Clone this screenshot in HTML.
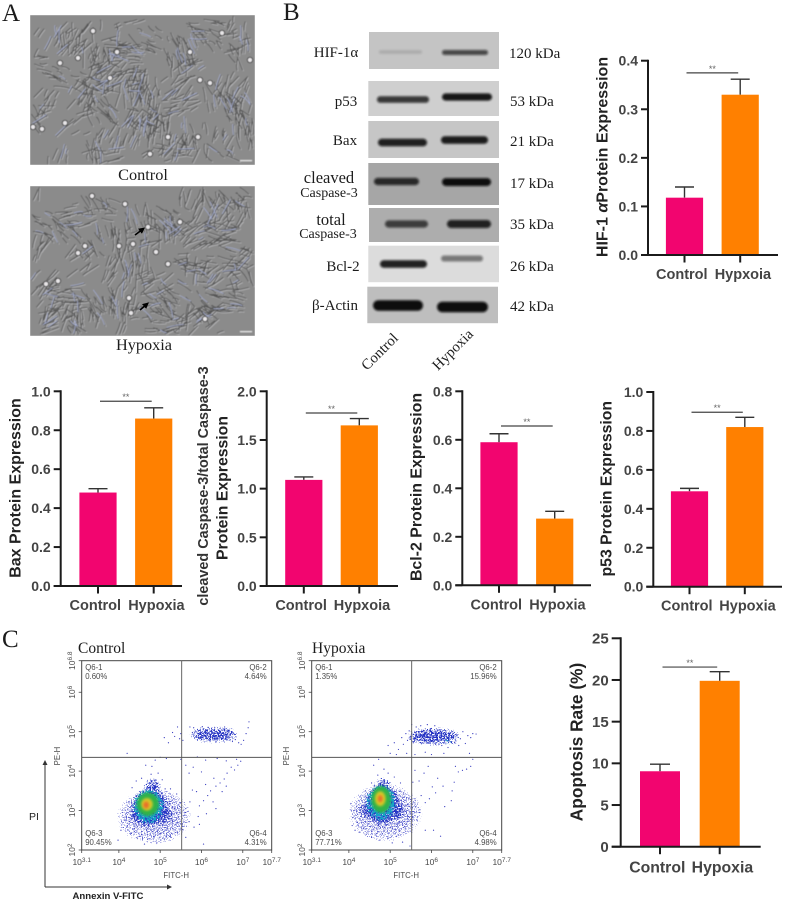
<!DOCTYPE html>
<html lang="en">
<head>
<meta charset="utf-8">
<title>Hypoxia figure</title>
<style>
html,body{margin:0;padding:0;background:#fff;}
svg{display:block;}
.sans{font-family:"Liberation Sans",Arial,sans-serif;}
.serif{font-family:"Liberation Serif","Times New Roman",serif;fill:#1c1c1c;}
.sans-bold{font-family:"Liberation Sans",Arial,sans-serif;font-weight:bold;}
</style>
</head>
<body>
<svg id="figure" xmlns="http://www.w3.org/2000/svg" width="789" height="905" viewBox="0 0 789 905">
  <defs>
    <filter id="soft" x="-30%" y="-150%" width="160%" height="400%"><feGaussianBlur stdDeviation="1.1"/></filter>
    <filter id="photo" x="0" y="0" width="100%" height="100%"><feGaussianBlur stdDeviation="0.4"/></filter>
    <filter id="speckle-halo" x="-60%" y="-60%" width="220%" height="220%" color-interpolation-filters="sRGB">
      <feGaussianBlur in="SourceAlpha" stdDeviation="7" result="b"/>
      <feTurbulence type="fractalNoise" baseFrequency="0.8" numOctaves="2" seed="11" result="n"/>
      <feColorMatrix in="n" type="matrix" values="0 0 0 0 0  0 0 0 0 0  0 0 0 0 0  2.2 0 0 0 -0.6" result="m"/>
      <feComposite in="b" in2="m" operator="arithmetic" k1="1" result="c"/>
      <feColorMatrix in="c" type="matrix" values="0 0 0 0 0  0 0 0 0 0  0 0 0 0 0  0 0 0 14 -7.8" result="d"/>
      <feFlood flood-color="#5a5fd0"/>
      <feComposite in2="d" operator="in"/>
    </filter>
    <filter id="speckle-blue" x="-60%" y="-60%" width="220%" height="220%" color-interpolation-filters="sRGB">
      <feGaussianBlur in="SourceAlpha" stdDeviation="4.5" result="b"/>
      <feTurbulence type="fractalNoise" baseFrequency="0.7" numOctaves="2" seed="4" result="n"/>
      <feColorMatrix in="n" type="matrix" values="0 0 0 0 0  0 0 0 0 0  0 0 0 0 0  2.2 0 0 0 -0.6" result="m"/>
      <feComposite in="b" in2="m" operator="arithmetic" k1="1" result="c"/>
      <feColorMatrix in="c" type="matrix" values="0 0 0 0 0  0 0 0 0 0  0 0 0 0 0  0 0 0 12 -3.9" result="d"/>
      <feFlood flood-color="#2433c4"/>
      <feComposite in2="d" operator="in"/>
    </filter>
    <filter id="speckle-cyan" x="-60%" y="-60%" width="220%" height="220%" color-interpolation-filters="sRGB">
      <feGaussianBlur in="SourceAlpha" stdDeviation="3" result="b"/>
      <feTurbulence type="fractalNoise" baseFrequency="0.55" numOctaves="2" seed="23" result="n"/>
      <feColorMatrix in="n" type="matrix" values="0 0 0 0 0  0 0 0 0 0  0 0 0 0 0  2.2 0 0 0 -0.6" result="m"/>
      <feComposite in="b" in2="m" operator="arithmetic" k1="1" result="c"/>
      <feColorMatrix in="c" type="matrix" values="0 0 0 0 0  0 0 0 0 0  0 0 0 0 0  0 0 0 10 -2.6" result="d"/>
      <feFlood flood-color="#16a4c8"/>
      <feComposite in2="d" operator="in"/>
    </filter>
    <filter id="smooth" x="-60%" y="-60%" width="220%" height="220%"><feGaussianBlur stdDeviation="1.4"/></filter>
    <marker id="arrow-head" markerWidth="6" markerHeight="6" refX="4" refY="2.5" orient="auto"><path d="M0,0 L5,2.5 L0,5 Z" fill="#333"/></marker>
    <marker id="cell-arrow-head" markerWidth="4" markerHeight="4" refX="2.4" refY="2" orient="auto"><path d="M0,0 L4,2 L0,4 Z" fill="#000"/></marker>
  </defs>

  <text class="serif" x="2" y="21" font-size="25">A</text>
  <text class="serif" x="283" y="20" font-size="25">B</text>
  <text class="serif" x="2" y="647" font-size="25">C</text>

  <g id="micrographs"></g>
  <text class="serif" x="143" y="180" font-size="16.3" text-anchor="middle">Control</text>
  <text class="serif" x="144" y="350" font-size="16.3" text-anchor="middle">Hypoxia</text>

  <g id="blots"></g>
  <g class="serif" font-size="15" text-anchor="middle">
    <text class="serif" x="336" y="57">HIF-1α</text>
    <text class="serif" x="346" y="106">p53</text>
    <text class="serif" x="345" y="145">Bax</text>
    <text class="serif" x="329" y="183" font-size="16.5">cleaved</text>
    <text class="serif" x="329" y="197" font-size="14">Caspase-3</text>
    <text class="serif" x="331" y="225" font-size="16.5">total</text>
    <text class="serif" x="328" y="238" font-size="14">Caspase-3</text>
    <text class="serif" x="343" y="271">Bcl-2</text>
    <text class="serif" x="335" y="310">β-Actin</text>
  </g>
  <g class="serif" font-size="15">
    <text class="serif" x="509" y="58">120 kDa</text>
    <text class="serif" x="510" y="106">53 kDa</text>
    <text class="serif" x="510" y="146">21 kDa</text>
    <text class="serif" x="510" y="188">17 kDa</text>
    <text class="serif" x="510" y="229">35 kDa</text>
    <text class="serif" x="510" y="271">26 kDa</text>
    <text class="serif" x="510" y="311">42 kDa</text>
  </g>
  <text class="serif" font-size="14.8" transform="translate(367,371) rotate(-45)">Control</text>
  <text class="serif" font-size="14.8" transform="translate(438,371) rotate(-45)">Hypoxia</text>

  <g id="bar-charts"></g>

  <text class="serif" x="78" y="653" font-size="15.5">Control</text>
  <text class="serif" x="312" y="653" font-size="15.5">Hypoxia</text>
  <g id="flow-plots"></g>

  <path d="M45,887 L45,761" stroke="#333" stroke-width="1" fill="none" marker-end="url(#arrow-head)"/>
  <path d="M45,887 L171,887" stroke="#333" stroke-width="1" fill="none" marker-end="url(#arrow-head)"/>
  <text class="sans" x="29" y="820" font-size="10.5" fill="#222">PI</text>
  <text class="sans-bold" x="72.5" y="899" font-size="9.6" fill="#222">Annexin V-FITC</text>
</svg>

<script>
/* ---------- Bar chart data ---------- */
const barCategories = ["Control", "Hypoxia"];
const hypxoiaCategories = ["Control", "Hypxoia"];

const hifValues = [0.118, 0.33];
const hifErrorTops = [0.14, 0.362];
const hifTickLabels = ["0.0", "0.1", "0.2", "0.3", "0.4"];
const hifSignificance = 0.375;

const baxValues = [0.48, 0.86];
const baxErrorTops = [0.5, 0.915];
const baxTickLabels = ["0.0", "0.2", "0.4", "0.6", "0.8", "1.0"];
const baxSignificance = 0.949;

const caspaseValues = [1.09, 1.65];
const caspaseErrorTops = [1.12, 1.72];
const caspaseTickLabels = ["0.0", "0.5", "1.0", "1.5", "2.0"];
const caspaseSignificance = 1.777;

const bclValues = [0.59, 0.275];
const bclErrorTops = [0.625, 0.305];
const bclTickLabels = ["0.0", "0.2", "0.4", "0.6", "0.8"];
const bclSignificance = 0.657;

const p53Values = [0.49, 0.82];
const p53ErrorTops = [0.505, 0.87];
const p53TickLabels = ["0.0", "0.2", "0.4", "0.6", "0.8", "1.0"];
const p53Significance = 0.896;

const apoptosisValues = [9.05, 19.9];
const apoptosisErrorTops = [9.9, 21];
const apoptosisTickLabels = ["0", "5", "10", "15", "20", "25"];
const apoptosisSignificance = 21.55;

/* ---------- Western blot band darkness, read by eye ---------- */
const blotProteins = ["HIF-1a", "p53", "Bax", "cleaved-caspase-3", "total-caspase-3", "Bcl-2", "beta-actin"];
const blotControlDarkness = [0.13, 0.78, 0.9, 0.82, 0.7, 0.9, 1];
const blotHypoxiaDarkness = [0.68, 0.95, 0.92, 1, 0.88, 0.48, 1];

/* ---------- Flow cytometry: quadrant statistics ---------- */
const quadrantNames = ["Q6-1", "Q6-2", "Q6-3", "Q6-4"];
const controlQuadrants = ["0.60%", "4.64%", "90.45%", "4.31%"];
const hypoxiaQuadrants = ["1.35%", "15.96%", "77.71%", "4.98%"];
const flowXTicks = ["3.1", "4", "5", "6", "7", "7.7"];
const flowYTicks = ["2", "3", "4", "5", "6", "6.8"];
const gateLogX = 5.52;
const gateLogY = 4.35;

/* Density regions: [log centre x, log centre y, log radius x, log radius y, level] */
const controlDensity = [
  [4.85, 2.85, 0.95, 0.75, 0],
  [4.76, 3.08, 0.44, 0.5, 1],
  [4.82, 3.5, 0.2, 0.34, 1],
  [4.55, 2.88, 0.3, 0.24, 1],
  [5.0, 2.9, 0.32, 0.25, 1],
  [6.3, 4.92, 0.62, 0.18, 1],
  [4.72, 3.1, 0.36, 0.42, 2],
  [4.7, 3.16, 0.27, 0.3, 3],
  [4.68, 3.16, 0.14, 0.16, 4],
  [4.66, 3.14, 0.07, 0.09, 5]
];
const hypoxiaDensity = [
  [4.88, 2.95, 0.95, 0.78, 0],
  [4.82, 3.14, 0.44, 0.5, 1],
  [4.82, 3.52, 0.22, 0.32, 1],
  [4.55, 3.0, 0.3, 0.24, 1],
  [5.05, 3.0, 0.32, 0.25, 1],
  [6.05, 4.88, 0.68, 0.2, 1],
  [6.48, 4.78, 0.22, 0.1, 1],
  [4.78, 3.2, 0.34, 0.44, 2],
  [6.42, 4.77, 0.11, 0.06, 2],
  [4.78, 3.28, 0.24, 0.34, 3],
  [4.76, 3.3, 0.13, 0.19, 4],
  [4.76, 3.3, 0.06, 0.09, 5]
];

/* Individually placed events: [log x, log y] */
const controlEvents = [
[5.72,5.12],[5.78,4.98],[5.81,5.1],[5.88,4.9],[5.92,5.02],[5.96,4.86],[6.0,4.98],[6.02,5.13],[6.06,4.9],[6.1,5.03],[6.12,4.84],[6.16,5.11],[6.18,4.95],[6.2,4.88],[6.24,5.02],[6.27,4.83],[6.3,4.93],[6.32,5.1],[6.35,4.88],[6.37,5.0],[6.4,4.82],[6.42,4.95],[6.45,5.08],[6.47,4.9],[6.5,5.03],[6.52,4.85],[6.54,4.96],[6.56,5.12],[6.6,4.9],[6.63,5.02],[6.66,4.84],[6.7,4.93],[6.75,4.75],[6.82,4.8],[6.9,4.72],[6.96,4.68],[7.02,4.78],[7.08,4.95],[7.13,5.1],[7.15,5.25],[5.1,4.85],[5.2,4.72],[5.3,4.98],[5.35,4.88],[5.42,5.12],[5.47,4.82],[5.5,4.95],[5.55,4.78],
[4.2,4.45],[4.88,4.28],[5.0,4.35],[5.15,4.32],[5.5,4.3],[5.9,4.36],[6.1,4.28],[6.38,4.32],[6.6,4.26],[6.85,4.3],[6.95,4.25],[6.88,4.15],[6.8,4.03],[6.72,4.1],[6.62,3.95],[6.55,3.8],[6.45,3.7],[6.35,3.62],[6.3,3.82],[6.22,3.5],[6.15,3.38],[6.05,3.25],[5.95,3.12],[6.5,3.48],[6.6,3.62],[6.28,3.22],[6.35,3.05],[6.12,2.92],[5.92,2.85],[5.78,3.52],[5.7,3.95],[5.62,4.15],[5.8,4.1],[6.0,3.98],[6.1,3.66],[5.88,3.48],[5.72,3.22],[5.62,3.05],
[5.62,2.95],[5.7,2.72],[5.82,2.58],[5.95,2.65],[5.55,2.52],[5.62,2.32],[6.05,2.15],[5.45,2.85],[5.5,3.2],[5.4,3.42],[5.35,3.05],[5.3,2.72],[5.25,3.55],[5.42,2.45],[5.25,2.35],[5.18,2.55],[5.1,2.28],[5.02,2.42],[4.92,2.18],[4.85,2.35],[4.78,2.5],[4.7,2.28],[4.62,2.15],[4.55,2.4],[4.45,2.3],[4.38,2.55],[4.3,2.42],[4.2,2.6],[4.15,2.75],[4.05,2.5],[3.98,2.25],[4.25,3.22],[4.32,3.58],[4.42,3.75],[4.55,3.82],[4.78,3.92],[4.95,3.95],[5.05,3.78],[5.12,3.55],[4.65,4.15],[4.8,4.12],
[5.05,3.25],[5.15,2.98],[5.22,3.18],[4.98,2.62],[5.08,2.72],[4.6,2.62],[4.42,2.88],[4.32,2.98],[4.25,2.72]
];
const hypoxiaEvents = [
[4.95,4.65],[5.1,4.72],[5.2,4.55],[5.28,4.85],[5.32,4.68],[5.38,4.95],[5.42,4.78],[5.46,5.02],[5.5,4.88],[5.52,5.18],[5.56,4.72],[5.6,4.98],[5.63,5.12],[5.66,4.8],[5.7,4.92],[5.74,5.15],[5.78,4.72],[5.82,5.02],[5.85,4.85],[5.9,5.18],[5.93,4.95],[5.97,4.75],[6.0,5.08],[6.04,4.86],[6.08,5.15],[6.1,4.68],[6.14,4.95],[6.18,4.78],[6.2,5.05],[6.25,4.65],[6.3,4.88],[6.34,5.02],[6.4,4.6],[6.45,4.95],[6.5,5.0],[6.56,4.72],[6.6,4.92],[6.66,4.65],[6.7,4.82],[6.76,5.0],[6.82,4.7],[6.88,4.9],[6.95,4.85],[7.0,4.95],[7.08,4.94],[5.0,4.45],[5.15,4.42],[5.4,4.45],[5.6,4.42],[5.85,4.48],[6.0,4.42],[6.3,4.45],
[6.92,4.45],[7.0,4.3],[6.95,4.12],[6.85,4.05],[6.75,4.02],[6.65,3.98],[6.58,4.12],[6.55,3.72],[6.5,3.5],[6.48,3.25],[6.32,3.1],[6.28,3.62],[6.15,3.82],[6.1,3.45],[6.02,3.6],[5.95,3.3],[5.85,3.2],[5.72,3.02],[5.62,3.1],[5.7,3.75],[5.82,3.95],[5.92,4.12],[5.6,4.02],[5.55,3.72],[5.72,2.95],[5.85,2.5],[6.05,2.5],[6.22,2.35],
[5.3,2.2],[5.2,2.38],[5.12,2.52],[5.05,2.18],[4.95,2.3],[4.85,2.48],[4.75,2.25],[4.68,2.42],[4.55,2.32],[4.42,2.4],[4.35,2.55],[4.25,2.45],[4.15,2.5],[4.08,2.62],[4.2,2.7],[4.3,2.85],[4.12,3.0],[4.05,3.18],[4.32,3.12],[4.4,3.5],[4.55,3.7],[4.7,3.9],[4.85,4.05],[4.95,3.95],[5.1,3.85],[5.25,3.7],[5.32,3.42],[5.42,3.15],[5.5,3.28],[5.45,2.85],[5.38,2.65],[5.52,2.45],[5.48,2.1],[5.3,3.02],[5.22,2.72],[5.15,3.35],[4.9,2.72],[4.72,2.62],[4.6,2.78],[4.5,2.95],[5.6,3.3],[5.75,3.38],[4.6,4.15],[4.72,4.3],[5.05,3.55],[4.48,3.3]
];

/* ---------- Helpers ---------- */
const NS = "http://www.w3.org/2000/svg";
function mk(tag, attrs, parent) {
  const el = document.createElementNS(NS, tag);
  for (const k in attrs) el.setAttribute(k, attrs[k]);
  parent.appendChild(el);
  return el;
}
function linear(d0, d1, r0, r1) {
  return v => r0 + (v - d0) * (r1 - r0) / (d1 - d0);
}

/* ---------- Bar charts ---------- */
const PINK = "#f2056f", ORANGE = "#ff8000", AXIS = "#1b1b1b", INK = "#444";

function drawBarChart(o) {
  const root = document.getElementById("bar-charts");
  const g = mk("g", {}, root);
  
  
  const ticks = o.tickLabels.map(Number);
  const y = linear(ticks[0], ticks[ticks.length - 1], o.bottom, o.top);
  const colours = [PINK, ORANGE];

  o.values.forEach((v, i) => {
    const cx = o.centres[i];
    const err = mk("path", {
      d: `M${cx},${y(v)} V${y(o.errorTops[i])} M${cx - o.cap},${y(o.errorTops[i])} H${cx + o.cap}`,
      stroke: "#333", "stroke-width": 1.4, fill: "none"
    }, g);
    
    
    const bar = mk("rect", {
      x: cx - o.barWidth / 2, y: y(v), width: o.barWidth, height: o.bottom - y(v), fill: colours[i]
    }, g);
    
    

    const tick = mk("line", {
      x1: cx, x2: cx, y1: o.bottom, y2: o.bottom + 7.5, stroke: AXIS, "stroke-width": 2
    }, g);
    
    

    const lab = mk("text", {
      x: cx + (i === 0 ? -o.labelSpread : o.labelSpread), y: o.bottom + o.labelDrop, "text-anchor": "middle",
      "font-size": o.catFont, fill: INK, class: "sans-bold"
    }, g);
    lab.textContent = o.categories[i];
    
    
  });

  const axis = mk("path", {
    d: `M${o.axisX},${o.top - 1} V${o.bottom} M${o.axisX - o.tickLen},${o.bottom} H${o.axisEnd}`,
    stroke: AXIS, "stroke-width": 2, fill: "none"
  }, g);
  
  

  ticks.forEach((t, i) => {
    const tk = mk("line", {
      x1: o.axisX - o.tickLen, x2: o.axisX, y1: y(t), y2: y(t), stroke: AXIS, "stroke-width": 2
    }, g);
    
    
    const lb = mk("text", {
      x: o.axisX - o.tickLen - 3, y: y(t) + o.tickFont * 0.36, "text-anchor": "end",
      "font-size": o.tickFont, fill: INK, class: "sans-bold"
    }, g);
    lb.textContent = o.tickLabels[i];
    
    
  });

  const sy = y(o.significance);
  const sig = mk("line", {
    x1: o.centres[0] + o.sigInset, x2: o.centres[1] - o.sigInset, y1: sy, y2: sy, stroke: "#444", "stroke-width": 1.2
  }, g);
  
  
  const star = mk("text", {
    x: (o.centres[0] + o.centres[1]) / 2, y: sy - 1, "text-anchor": "middle", "font-size": 9, fill: "#666", class: "sans"
  }, g);
  star.textContent = "**";
  
  

  o.titles.forEach((t) => {
    const ty = mk("text", {
      transform: `translate(${t.x},${t.y}) rotate(-90)`, "text-anchor": "middle",
      "font-size": t.size, fill: t.fill || "#222", class: "sans-bold"
    }, g);
    
    
    if (t.alpha) {
      const a = mk("tspan", {}, ty);
      a.textContent = t.alpha[0];
      const al = mk("tspan", { "font-style": "italic" }, ty);
      al.textContent = "α";
      const b = mk("tspan", {}, ty);
      b.textContent = t.alpha[1];
    } else {
      ty.textContent = t.text;
    }
  });
}

const commonBar = { barWidth: 37.2, cap: 9.5, tickLen: 7, tickFont: 14, catFont: 14.5, labelSpread: 2.7, labelDrop: 24, sigInset: 2 };

drawBarChart(Object.assign({}, commonBar, {
  name: "hif", categories: hypxoiaCategories, values: hifValues, errorTops: hifErrorTops,
  tickLabels: hifTickLabels, significance: hifSignificance,
  axisX: 648, axisEnd: 778, top: 60.7, bottom: 255, centres: [684.5, 740.2],
  titles: [{ x: 607.3, y: 157, size: 16, alpha: ["HIF-1 ", "Protein Expression"] }]
}));
drawBarChart(Object.assign({}, commonBar, {
  name: "bax", categories: barCategories, values: baxValues, errorTops: baxErrorTops,
  tickLabels: baxTickLabels, significance: baxSignificance,
  axisX: 60.7, axisEnd: 182, top: 391.3, bottom: 586, centres: [98, 153.7],
  titles: [{ x: 20.7, y: 488, size: 16, text: "Bax Protein Expression" }]
}));
drawBarChart(Object.assign({}, commonBar, {
  name: "caspase", categories: hypxoiaCategories, values: caspaseValues, errorTops: caspaseErrorTops,
  tickLabels: caspaseTickLabels, significance: caspaseSignificance,
  axisX: 266.7, axisEnd: 398, top: 391.3, bottom: 586, centres: [303.8, 359.3],
  titles: [
    { x: 208, y: 486, size: 14.4, fill: "#333", text: "cleaved Caspase-3/total Caspase-3" },
    { x: 227.7, y: 488, size: 15.8, text: "Protein Expression" }
  ]
}));
drawBarChart(Object.assign({}, commonBar, {
  name: "bcl2", categories: barCategories, values: bclValues, errorTops: bclErrorTops,
  tickLabels: bclTickLabels, significance: bclSignificance,
  axisX: 462.3, axisEnd: 591, top: 391.3, bottom: 585.3, centres: [499, 554.7],
  titles: [{ x: 421.7, y: 487, size: 15.9, text: "Bcl-2 Protein Expression" }]
}));
drawBarChart(Object.assign({}, commonBar, {
  name: "p53", categories: barCategories, values: p53Values, errorTops: p53ErrorTops,
  tickLabels: p53TickLabels, significance: p53Significance,
  axisX: 653.3, axisEnd: 782, top: 392, bottom: 586.7, centres: [689.5, 744.8],
  titles: [{ x: 611.7, y: 488.7, size: 15.8, text: "p53 Protein Expression" }]
}));
drawBarChart(Object.assign({}, commonBar, {
  name: "apoptosis", categories: barCategories, values: apoptosisValues, errorTops: apoptosisErrorTops,
  tickLabels: apoptosisTickLabels, significance: apoptosisSignificance,
  axisX: 620.7, axisEnd: 760.7, top: 638.3, bottom: 846.7, centres: [660, 719.7], barWidth: 40, cap: 10,
  tickLen: 9, tickFont: 15, catFont: 15.8, labelDrop: 26, sigInset: 2.5,
  titles: [{ x: 582.3, y: 742, size: 17.3, text: "Apoptosis Rate (%)" }]
}));

/* ---------- Western blots ---------- */
(function () {
  const root = document.getElementById("blots");
  const panels = [
    { x: 369, y: 32, w: 130, h: 37, bg: "#c4c4c4", bandY: [52, 52.5], t: 5.5 },
    { x: 368.3, y: 81, w: 130.7, h: 35, bg: "#cfcfcf", bandY: [99.5, 97], t: 7 },
    { x: 368.3, y: 121, w: 130.7, h: 37, bg: "#c6c6c6", bandY: [142.5, 140], t: 7.5 },
    { x: 368.3, y: 163, w: 130.7, h: 42, bg: "#a6a6a6", bandY: [181.5, 182], t: 7.5 },
    { x: 369, y: 208, w: 130, h: 34, bg: "#adadad", bandY: [224, 224], t: 8 },
    { x: 368.3, y: 245.7, w: 130.7, h: 36.5, bg: "#dcdcdc", bandY: [264, 258.5], t: 7.5 },
    { x: 367.3, y: 286.7, w: 130.7, h: 36.5, bg: "#bebebe", bandY: [305.5, 307], t: 10 }
  ];
  const lanesX = [[[379, 422], [442, 488]], [[377, 429], [442, 492]], [[378, 427], [441, 488]], [[374, 419], [442, 491]], [[385, 428], [447, 491]], [[380, 427], [441, 483]], [[373, 423], [437, 488]]];
  panels.forEach((p, i) => {
    const g = mk("g", {}, root);
    
    
    const bgr = mk("rect", { x: p.x, y: p.y, width: p.w, height: p.h, fill: p.bg }, g);
    
    
    [blotControlDarkness[i], blotHypoxiaDarkness[i]].forEach((d, lane) => {
      const [a, b] = lanesX[i][lane];
      const thick = p.t * (0.55 + 0.5 * d);
      const band = mk("rect", {
        x: a, y: p.bandY[lane] - thick / 2, width: b - a, height: thick, rx: thick / 2,
        fill: "#0a0a0a", opacity: d, filter: "url(#soft)"
      }, g);
      
      
    });
  });
})();

/* ---------- Micrographs (photographic texture, not data) ---------- */
function drawMicrograph(name, x, y, w, h, seed, ringCells, arrows) {
  const root = document.getElementById("micrographs");
  const g = mk("g", { filter: "url(#photo)" }, root);
  
  
  const bg = mk("rect", { x, y, width: w, height: h, fill: "#8b8b8b" }, g);
  
  
  let s = seed;
  const r = () => (s = (s * 16807) % 2147483647) / 2147483647;
  let dark = "", light = "", blue = "";
  for (let k = 0; k < 62; k++) {
    const cx = x + r() * w, cy = y + r() * h, ang = r() * Math.PI, n = 8 + Math.floor(r() * 12);
    for (let j = 0; j < n; j++) {
      const px = cx + (r() - 0.5) * 30, py = cy + (r() - 0.5) * 24;
      const a = ang + (r() - 0.5) * 0.6, len = 5 + r() * 12, bend = (r() - 0.5) * 3;
      const dx = Math.cos(a) * len / 2, dy = Math.sin(a) * len / 2;
      const x0 = px - dx, y0 = py - dy, x1 = px + dx, y1 = py + dy;
      if (Math.min(x0, x1) < x + 1 || Math.max(x0, x1) > x + w - 1 || Math.min(y0, y1) < y + 1 || Math.max(y0, y1) > y + h - 1) continue;
      const seg = (o) => `M${(x0 + o).toFixed(1)},${(y0 + o).toFixed(1)}Q${(px + o + bend).toFixed(1)},${(py + o - bend).toFixed(1)} ${(x1 + o).toFixed(1)},${(y1 + o).toFixed(1)}`;
      dark += seg(0);
      light += seg(0.9);
      if (j % 11 === 0) blue += seg(-0.7);
    }
  }
  const tex = [[light, "#b8b8ba", 0.8], [dark, "#565656", 0.9], [blue, "#aeb6d8", 0.7]];
  tex.forEach(([d, c, sw]) => {
    const path = mk("path", { d, stroke: c, "stroke-width": sw, fill: "none", "stroke-linecap": "round" }, g);
    
    
  });
  ringCells.forEach(([cx, cy]) => {
    const c = mk("circle", { cx, cy, r: 2.6, fill: "#e8e6e8", stroke: "#3f3f3f", "stroke-width": 1 }, g);
    
    
  });
  const scale = mk("rect", { x: x + w - 15, y: y + h - 5, width: 12, height: 1.3, fill: "#e4e4e4" }, g);
  
  
  arrows.forEach(([x0, y0, x1, y1]) => {
    const a = mk("line", { x1: x0, y1: y0, x2: x1, y2: y1, stroke: "#000", "stroke-width": 1.6, "marker-end": "url(#cell-arrow-head)" }, root);
    
    
  });
}
drawMicrograph("micrograph-control", 30, 15, 225, 150, 48271,
  [[93, 31], [222, 33], [60, 63], [117, 52], [110, 78], [190, 52], [250, 60], [210, 83], [65, 123], [33, 127], [42, 129], [168, 137], [198, 137], [150, 154], [78, 58], [200, 80]], []);
drawMicrograph("micrograph-hypoxia", 30, 186, 225, 150, 91357,
  [[92, 196], [125, 204], [180, 222], [148, 227], [133, 244], [119, 246], [85, 246], [78, 253], [156, 252], [168, 264], [46, 284], [58, 281], [129, 298], [131, 313], [205, 319]],
  [[135, 235, 143, 229], [140, 310, 147, 304]]);

/* ---------- Flow plots ---------- */
const DENSITY_COLOURS = ["#000", "#000", "#000", "#2fb24a", "#d8c828", "#e8702a"];
const DENSITY_FILTERS = ["url(#speckle-halo)", "url(#speckle-blue)", "url(#speckle-cyan)", "url(#smooth)", "url(#smooth)", "url(#smooth)"];

function drawFlowPlot(name, left, right, top, bottom, density, events, stats, pe) {
  const root = document.getElementById("flow-plots");
  const g = mk("g", {}, root);
  
  
  const x = linear(3.1, 7.7, left, right);
  const y = linear(2, 6.8, bottom, top);

  density.forEach((row) => {
    const [lx, ly, rx, ry, level] = row;
    const e = mk("ellipse", {
      cx: x(lx), cy: y(ly), rx: x(lx + rx) - x(lx), ry: y(ly) - y(ly + ry),
      fill: DENSITY_COLOURS[level], filter: DENSITY_FILTERS[level]
    }, g);
    
    
  });
  events.forEach(([lx, ly]) => {
    const d = mk("circle", { cx: x(lx), cy: y(ly), r: 0.6, fill: "#3a3fc0" }, g);
    
    
  });

  const box = mk("rect", { x: left, y: top, width: right - left, height: bottom - top, fill: "none", stroke: "#444", "stroke-width": 1 }, g);
  
  
  const vg = mk("line", { x1: x(gateLogX), x2: x(gateLogX), y1: top, y2: bottom, stroke: "#666", "stroke-width": 1 }, g);
  
  
  const hg = mk("line", { x1: left, x2: right, y1: y(gateLogY), y2: y(gateLogY), stroke: "#555", "stroke-width": 1 }, g);
  
  

  flowXTicks.forEach((t) => {
    const px = x(Number(t));
    const tk = mk("line", { x1: px, x2: px, y1: bottom, y2: bottom + 3, stroke: "#444", "stroke-width": 0.8 }, g);
    
    
    const lb = mk("text", { x: px, y: bottom + 15, "text-anchor": "middle", "font-size": 8.5, fill: "#4a4a4a", class: "sans" }, g);
    
    
    const base = mk("tspan", {}, lb);
    base.textContent = "10";
    const sup = mk("tspan", { dy: -3, "font-size": 6.5 }, lb);
    sup.textContent = t;
  });
  flowYTicks.forEach((t) => {
    const py = y(Number(t));
    const tk = mk("line", { x1: left - 3, x2: left, y1: py, y2: py, stroke: "#444", "stroke-width": 0.8 }, g);
    
    
    const lb = mk("text", { transform: `translate(${left - 6.5},${py}) rotate(-90)`, "text-anchor": "middle", "font-size": 8.5, fill: "#4a4a4a", class: "sans" }, g);
    
    
    const base = mk("tspan", {}, lb);
    base.textContent = "10";
    const sup = mk("tspan", { dy: -3, "font-size": 6.5 }, lb);
    sup.textContent = t;
  });

  const xt = mk("text", { x: (left + right) / 2 - 0.5, y: 878, "text-anchor": "middle", "font-size": 7.8, fill: "#4a4a4a", class: "sans" }, g);
  xt.textContent = "FITC-H";
  
  
  const yt = mk("text", { transform: `translate(${pe},756) rotate(-90)`, "text-anchor": "middle", "font-size": 7.8, fill: "#4a4a4a", class: "sans" }, g);
  yt.textContent = "PE-H";
  
  

  const spots = [[left + 3.5, 670, "start"], [right - 5, 670, "end"], [left + 3.5, 836, "start"], [right - 5, 836, "end"]];
  quadrantNames.forEach((q, i) => {
    const [tx, ty, anchor] = spots[i];
    const a = mk("text", { x: tx, y: ty, "font-size": 7.8, fill: "#4a4a4a", "text-anchor": anchor, class: "sans" }, g);
    a.textContent = q;
    
    
    const b = mk("text", { x: tx, y: ty + 9, "font-size": 7.8, fill: "#4a4a4a", "text-anchor": anchor, class: "sans" }, g);
    b.textContent = stats[i];
    
    
  });
}
drawFlowPlot("flow-control", 81.7, 271.7, 660.7, 850, controlDensity, controlEvents, controlQuadrants, 60);
drawFlowPlot("flow-hypoxia", 311.7, 501.7, 660.7, 850, hypoxiaDensity, hypoxiaEvents, hypoxiaQuadrants, 289);
</script>
</body>
</html>
